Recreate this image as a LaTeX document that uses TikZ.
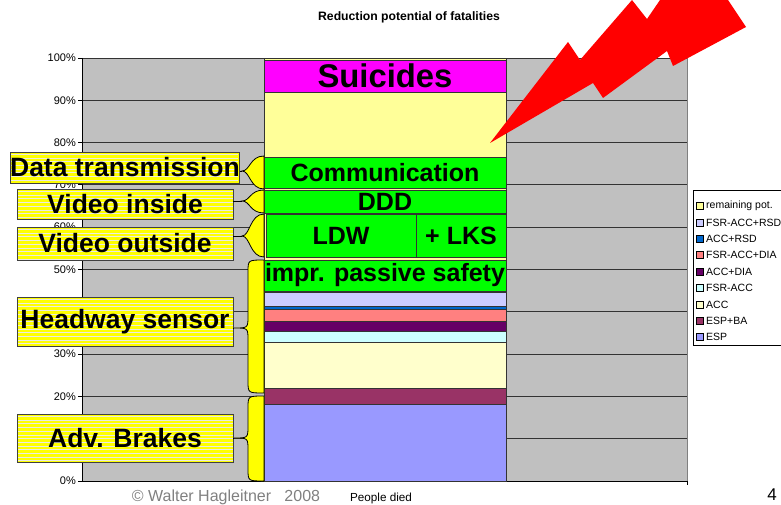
\documentclass[tikz,border=0pt]{standalone}
\usepackage{fontspec}
\setmainfont{Liberation Sans}
\usepackage{xcolor}
\usepackage{tikz}
\definecolor{plotgray}{RGB}{192, 192, 192}
\definecolor{espblue}{RGB}{153, 153, 255}
\definecolor{espbared}{RGB}{153, 51, 102}
\definecolor{acccream}{RGB}{255, 255, 204}
\definecolor{fsracccyan}{RGB}{204, 255, 255}
\definecolor{accdiapurple}{RGB}{102, 0, 102}
\definecolor{fsrdiasalmon}{RGB}{255, 128, 128}
\definecolor{accrsdblue}{RGB}{0, 102, 204}
\definecolor{fsrrsdlilac}{RGB}{204, 204, 255}
\definecolor{remainyellow}{RGB}{255, 255, 153}
\definecolor{systemgreen}{RGB}{0, 255, 0}
\definecolor{suicidemagenta}{RGB}{255, 0, 255}
\definecolor{tagyellow}{RGB}{255, 255, 0}
\definecolor{stripewhite}{RGB}{235, 235, 225}
\definecolor{boltred}{RGB}{255, 0, 0}

\begin{document}
\begin{tikzpicture}[
    x=1pt, y=-1pt,
    gridline/.style={draw=black!80, line width=0.9pt},
    segment/.style={draw=black!80, line width=0.8pt},
    system/.style={rectangle, draw=black!80, line width=0.8pt, fill=systemgreen, inner sep=0pt, font=\fontsize{25}{25}\selectfont\bfseries},
    tag/.style={rectangle, draw=black!75, line width=0.8pt, fill=tagyellow, minimum width=216pt, inner sep=0pt, font=\fontsize{26.5}{27}\selectfont\bfseries,
        path picture={\foreach \s in {2.5,6.2,...,50} \draw[stripewhite, line width=1pt] (path picture bounding box.north west) ++(-2,\s) -- ++(230,0);}},
    bracket/.style={draw=black, line width=0.8pt, fill=tagyellow},
    ticklabel/.style={anchor=east, inner sep=0pt, font=\fontsize{11}{11}\selectfont},
    key/.style={rectangle, draw=black, line width=0.5pt, minimum size=7pt, inner sep=0pt},
    keytext/.style={anchor=west, inner sep=0pt, font=\fontsize{10.5}{10.5}\selectfont}
]
    \useasboundingbox (0,0) rectangle (781,505);

    % Title
    \node[font=\fontsize{12.2}{12}\selectfont\bfseries] (title) at (409,17) {Reduction potential of fatalities};

    % Plot area and grid
    \fill[plotgray] (82,58) rectangle (687,481);
    \draw[gray, line width=0.8pt] (687,58) -- (687,481);
    \draw[gridline] (82,58) -- (687,58);
    \draw[gridline] (82,100.3) -- (687,100.3);
    \draw[gridline] (82,142.6) -- (687,142.6);
    \draw[gridline] (82,184.9) -- (687,184.9);
    \draw[gridline] (82,227.2) -- (687,227.2);
    \draw[gridline] (82,269.5) -- (687,269.5);
    \draw[gridline] (82,311.8) -- (687,311.8);
    \draw[gridline] (82,354.1) -- (687,354.1);
    \draw[gridline] (82,396.4) -- (687,396.4);
    \draw[gridline] (82,438.7) -- (687,438.7);

    % Axes
    \draw[black, line width=0.9pt] (82,58) -- (82,481) -- (687,481) -- (687,485);
    \draw[black, line width=0.9pt] (78,58) -- (82,58) (78,100.3) -- (82,100.3) (78,142.6) -- (82,142.6)
        (78,184.9) -- (82,184.9) (78,227.2) -- (82,227.2) (78,269.5) -- (82,269.5) (78,311.8) -- (82,311.8)
        (78,354.1) -- (82,354.1) (78,396.4) -- (82,396.4) (78,438.7) -- (82,438.7) (78,481) -- (82,481);
    \node[ticklabel] (p100) at (76,58) {100\%};
    \node[ticklabel] (p90) at (76,100.3) {90\%};
    \node[ticklabel] (p80) at (76,142.6) {80\%};
    \node[ticklabel] (p70) at (76,184.9) {70\%};
    \node[ticklabel] (p60) at (76,227.2) {60\%};
    \node[ticklabel] (p50) at (76,269.5) {50\%};
    \node[ticklabel] (p40) at (76,311.8) {40\%};
    \node[ticklabel] (p30) at (76,354.1) {30\%};
    \node[ticklabel] (p20) at (76,396.4) {20\%};
    \node[ticklabel] (p10) at (76,438.7) {10\%};
    \node[ticklabel] (p0) at (76,481) {0\%};

    % Stacked bar
    \filldraw[segment, fill=espblue] (264,404) rectangle (506,481);
    \filldraw[segment, fill=espbared] (264,388) rectangle (506,404);
    \filldraw[segment, fill=acccream] (264,342) rectangle (506,388);
    \filldraw[segment, fill=fsracccyan] (264,331) rectangle (506,342);
    \filldraw[segment, fill=accdiapurple] (264,321) rectangle (506,331);
    \filldraw[segment, fill=fsrdiasalmon] (264,309) rectangle (506,321);
    \filldraw[segment, fill=accrsdblue] (264,306) rectangle (506,309);
    \filldraw[segment, fill=fsrrsdlilac] (264,292) rectangle (506,306);
    \filldraw[segment, fill=remainyellow] (264,58) rectangle (506,292);

    % Systems on the bar
    \node[system, fill=suicidemagenta, minimum width=242pt, minimum height=32pt, font=\fontsize{32.8}{33}\selectfont\bfseries] (suicides) at (385,76) {Suicides};
    \node[system, minimum width=242pt, minimum height=31pt] (comm) at (385,172.5) {Communication};
    \node[system, minimum width=242pt, minimum height=23pt] (ddd) at (385,201.5) {DDD};
    \node[system, minimum width=150pt, minimum height=43pt] (ldw) at (341,235.5) {LDW};
    \node[system, minimum width=90pt, minimum height=43pt] (lks) at (461,235.5) {+ LKS};
    \node[system, minimum width=242pt, minimum height=31pt] (passive) at (385,275.5) {impr. passive safety};

    % Braces
    \coordinate (dttip) at (242,171);
    \coordinate (vitip) at (242,201);
    \coordinate (votip) at (242,236);
    \coordinate (hstip) at (234,328);
    \coordinate (abtip) at (234,438);
    \draw[bracket] (264,156) .. controls (250,156) and (250,171) .. (dttip) .. controls (250,171) and (250,189) .. (264,189) -- cycle;
    \draw[bracket] (264,190) .. controls (250,190) and (250,201) .. (vitip) .. controls (250,201) and (250,213) .. (264,213) -- cycle;
    \draw[bracket] (264,214) .. controls (250,214) and (250,236) .. (votip) .. controls (250,236) and (250,257) .. (264,257) -- cycle;
    \draw[bracket] (264,260) .. controls (248,260) .. (248,272) -- (248,316) .. controls (248,328) .. (hstip)
        .. controls (248,328) .. (248,340) -- (248,381) .. controls (248,393) .. (264,393) -- cycle;
    \draw[bracket] (264,396) .. controls (248,396) .. (248,408) -- (248,426) .. controls (248,438) .. (abtip)
        .. controls (248,438) .. (248,450) -- (248,469) .. controls (248,481) .. (264,481) -- cycle;

    % Sensor labels
    \node[tag, minimum height=31pt] (datatx) at (125,167.5) {Data transmission};
    \node[tag, minimum height=30pt] (vidin) at (125,204) {Video inside};
    \node[tag, minimum height=33pt] (vidout) at (125,243.5) {Video outside};
    \node[tag, minimum height=49pt] (headway) at (125,321.5) {Headway sensor};
    \node[tag, minimum height=48pt] (brakes) at (125,438) {Adv. Brakes};

    % Label to brace
    \draw[line width=0.8pt] (datatx.east |- dttip) -- (dttip);
    \draw[line width=0.8pt] (vidin.east |- vitip) -- (vitip);
    \draw[line width=0.8pt] (vidout.east |- votip) -- (votip);
    \draw[line width=0.8pt] (headway.east |- hstip) -- (hstip);
    \draw[line width=0.8pt] (brakes.east |- abtip) -- (abtip);

    % Legend
    \draw[black, line width=0.8pt, fill=white] (693,190) rectangle (800,345);
    \node[key, fill=remainyellow] (kremain) at (700,206) {};
    \node[keytext] (tremain) at (706,206) {remaining pot.};
    \node[key, fill=fsrrsdlilac] (kfsrrsd) at (700,222.4) {};
    \node[keytext] (tfsrrsd) at (706,222.4) {FSR-ACC+RSD};
    \node[key, fill=accrsdblue] (kaccrsd) at (700,238.8) {};
    \node[keytext] (taccrsd) at (706,238.8) {ACC+RSD};
    \node[key, fill=fsrdiasalmon] (kfsrdia) at (700,255.2) {};
    \node[keytext] (tfsrdia) at (706,255.2) {FSR-ACC+DIA};
    \node[key, fill=accdiapurple] (kaccdia) at (700,271.6) {};
    \node[keytext] (taccdia) at (706,271.6) {ACC+DIA};
    \node[key, fill=fsracccyan] (kfsracc) at (700,288) {};
    \node[keytext] (tfsracc) at (706,288) {FSR-ACC};
    \node[key, fill=acccream] (kacc) at (700,304.4) {};
    \node[keytext] (tacc) at (706,304.4) {ACC};
    \node[key, fill=espbared] (kespba) at (700,320.8) {};
    \node[keytext] (tespba) at (706,320.8) {ESP+BA};
    \node[key, fill=espblue] (kesp) at (700,337.2) {};
    \node[keytext] (tesp) at (706,337.2) {ESP};

    % Footer
    \node[text=gray, font=\fontsize{16}{16}\selectfont] (copy) at (226,497) {© Walter Hagleitner \ \ 2008};
    \node[font=\fontsize{11.7}{12}\selectfont] (died) at (381,498) {People died};
    \node[font=\fontsize{17}{17}\selectfont] (pageno) at (772,495) {4};

    % Lightning bolt
    \fill[boltred] (490,143) -- (568,42) -- (580,60) -- (632,0) -- (647,19) -- (660,0) -- (728,0)
        -- (746,27) -- (673,66) -- (667,51) -- (603,98) -- (593,83) -- cycle;

\end{tikzpicture}
\end{document}
